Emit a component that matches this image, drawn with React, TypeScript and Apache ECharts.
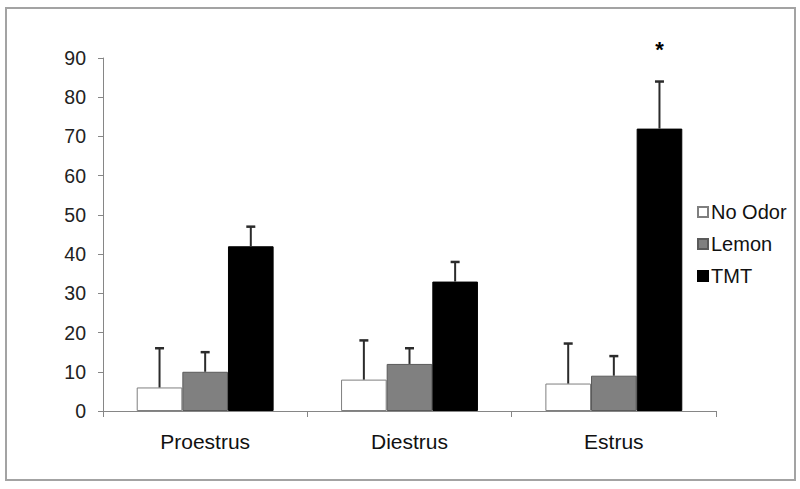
import React, { useEffect, useRef } from "react";
import * as echarts from "echarts";

const categories = ["Proestrus", "Diestrus", "Estrus"];
const seriesNames = ["No Odor", "Lemon", "TMT"];
const noOdor = [6, 8, 7];
const noOdorUpper = [16, 18, 17.2];
const lemon = [10, 12, 9];
const lemonUpper = [15, 16, 14];
const tmt = [42, 33, 72];
const tmtUpper = [47, 38, 84];
const significance = ["", "", "*"];
const yTicks = { min: 0, max: 90, interval: 10 };

const fills = ["#ffffff", "#808080", "#000000"];
const borders = ["#7f7f7f", "#5a5a5a", "#000000"];

export default function App() {
  const ref = useRef<HTMLDivElement>(null);
  useEffect(() => {
    document.body.style.margin = "0";
    const chart = echarts.init(ref.current!, null, { renderer: "svg" });
    const means = [noOdor, lemon, tmt];
    const uppers = [noOdorUpper, lemonUpper, tmtUpper];
    const barSeries = seriesNames.map((name, si) => ({
      name,
      type: "bar",
      data: means[si],
      barGap: "0%",
      barCategoryGap: "33%",
      itemStyle: { color: fills[si], borderColor: borders[si], borderWidth: 1 },
      z: 2,
    }));
    const errSeries = seriesNames.map((name, si) => ({
      name: name + " err",
      type: "custom",
      z: 3,
      data: means[si].map((m, i) => [i, m, uppers[si][i]]),
      renderItem: (params: any, api: any) => {
        const ci = api.value(0);
        const base = api.coord([ci, api.value(1)]);
        const top = api.coord([ci, api.value(2)]);
        const catW = api.size([1, 0])[0];
        const bw = (catW * 0.67) / 3;
        const x = base[0] + (si - 1) * bw;
        const cap = 4.5;
        const children: any[] = [
          { type: "line", shape: { x1: x, y1: base[1], x2: x, y2: top[1] }, style: { stroke: "#2b2b2b", lineWidth: 2 } },
          { type: "line", shape: { x1: x - cap, y1: top[1], x2: x + cap, y2: top[1] }, style: { stroke: "#2b2b2b", lineWidth: 2.5 } },
        ];
        const sig = significance[params.dataIndex];
        if (si === 2 && sig) {
          children.push({
            type: "text",
            style: {
              text: sig,
              x: x,
              y: top[1] - 32,
              align: "center",
              verticalAlign: "middle",
              fontSize: 22,
              fontWeight: "bold",
              fontFamily: "Liberation Sans, Arial, sans-serif",
              fill: "#000",
            },
          });
        }
        return { type: "group", children };
      },
    }));
    chart.setOption({
      animation: false,
      textStyle: { fontFamily: "Liberation Sans, Arial, sans-serif" },
      graphic: [
        {
          type: "rect",
          shape: { x: 6, y: 8, width: 789, height: 472 },
          style: { fill: "none", stroke: "#a3a3a3", lineWidth: 2 },
          silent: true,
        },
      ],
      grid: { left: 103, right: 84, top: 58, bottom: 78 },
      legend: {
        data: seriesNames,
        orient: "vertical",
        left: 697,
        top: 202,
        itemWidth: 10,
        itemHeight: 10,
        itemGap: 12,
        icon: "rect",
        textStyle: { fontSize: 20, color: "#111", lineHeight: 20, padding: [0, 0, 0, -2] },
        padding: 0,
      },
      xAxis: {
        type: "category",
        data: categories,
        axisLine: { lineStyle: { color: "#868686", width: 1 } },
        axisTick: { show: true, length: 6, lineStyle: { color: "#868686" } },
        axisLabel: { fontSize: 21, color: "#111", margin: 20 },
      },
      yAxis: {
        type: "value",
        min: yTicks.min,
        max: yTicks.max,
        interval: yTicks.interval,
        splitLine: { show: false },
        axisLine: { show: true, lineStyle: { color: "#868686", width: 1 } },
        axisTick: { show: true, length: 5, lineStyle: { color: "#868686" } },
        axisLabel: { fontSize: 19.5, color: "#222", margin: 17 },
      },
      series: [...barSeries, ...errSeries],
    });
    return () => chart.dispose();
  }, []);
  return <div ref={ref} style={{ width: 800, height: 489 }} />;
}
